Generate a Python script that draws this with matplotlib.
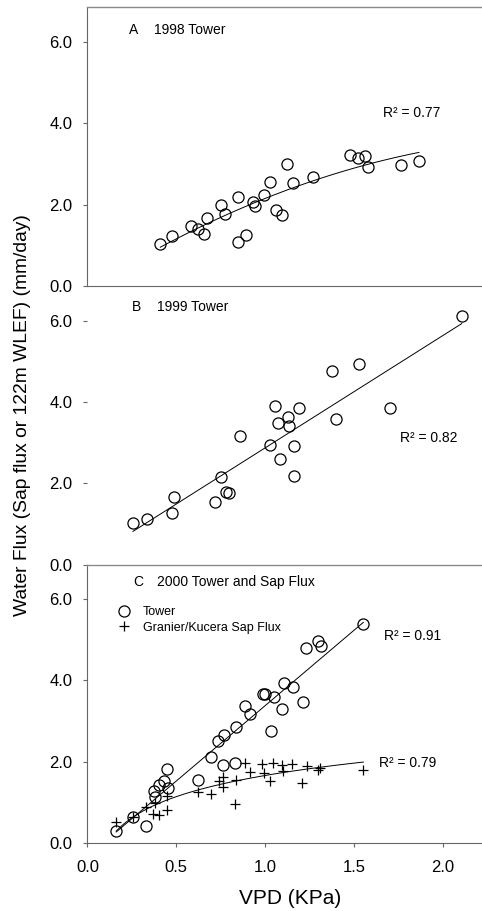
"""Water flux vs VPD, three stacked panels (1998, 1999, 2000)."""

import numpy as np
import matplotlib
matplotlib.use('Agg')
import matplotlib.pyplot as plt
from matplotlib.lines import Line2D

plt.rcParams['font.family'] = ['Liberation Sans', 'DejaVu Sans']

# panel A - 1998 tower
a_vpd = [0.41, 0.474, 0.583, 0.62, 0.656, 0.671, 0.75, 0.774, 0.849, 0.849, 0.89, 0.934, 0.943,
         0.996, 1.03, 1.061, 1.097, 1.125, 1.159, 1.272, 1.48, 1.523, 1.564, 1.578, 1.767, 1.866]
a_flux = [1.04, 1.24, 1.47, 1.41, 1.27, 1.68, 2.0, 1.78, 2.19, 1.07, 1.25, 2.07, 1.96,
          2.24, 2.56, 1.86, 1.75, 3.01, 2.53, 2.68, 3.21, 3.16, 3.2, 2.93, 2.97, 3.08]

# panel B - 1999 tower
b_vpd = [0.256, 0.333, 0.476, 0.487, 0.718, 0.75, 0.78, 0.799, 0.861, 1.026, 1.057, 1.071,
         1.084, 1.127, 1.134, 1.164, 1.161, 1.19, 1.375, 1.399, 1.53, 1.703, 2.107]
b_flux = [1.03, 1.13, 1.27, 1.65, 1.54, 2.16, 1.79, 1.75, 3.17, 2.94, 3.89, 3.47,
          2.6, 3.62, 3.41, 2.91, 2.18, 3.84, 4.76, 3.59, 4.94, 3.84, 6.12]

# panel C - 2000 tower and sap flux
c_tower_vpd = [0.162, 0.254, 0.327, 0.375, 0.38, 0.404, 0.429, 0.45, 0.451, 0.624, 0.697,
               0.737, 0.768, 0.765, 0.832, 0.838, 0.887, 0.915, 0.986, 0.999, 1.031, 1.05,
               1.093, 1.106, 1.157, 1.211, 1.228, 1.296, 1.317, 1.553]
c_tower_flux = [0.30, 0.65, 0.43, 1.29, 1.12, 1.42, 1.52, 1.82, 1.35, 1.56, 2.11,
                2.52, 2.65, 1.93, 1.98, 2.86, 3.36, 3.18, 3.67, 3.66, 2.76, 3.6,
                3.3, 3.93, 3.84, 3.48, 4.8, 4.96, 4.85, 5.39]
c_sap_vpd = [0.162, 0.254, 0.327, 0.37, 0.40, 0.38, 0.446, 0.45, 0.62, 0.695, 0.74, 0.765,
             0.765, 0.834, 0.83, 0.889, 0.915, 0.984, 0.994, 1.046, 1.028, 1.093, 1.103,
             1.15, 1.21, 1.234, 1.3, 1.31, 1.553]
c_sap_flux = [0.52, 0.64, 0.89, 0.71, 0.69, 0.98, 0.81, 1.16, 1.26, 1.2, 1.53, 1.63,
              1.37, 1.55, 0.96, 1.96, 1.75, 1.94, 1.71, 1.96, 1.53, 1.92, 1.77,
              1.94, 1.47, 1.89, 1.79, 1.85, 1.79]

fig = plt.figure(figsize=(4.82, 9.11), dpi=100)

left, width, h = 0.1815, 0.8185, 0.30571
axA = fig.add_axes([left, 0.68606, width, h])
axB = fig.add_axes([left, 0.38035, width, h])
axC = fig.add_axes([left, 0.07464, width, h])

spine_col = '#666666'
for ax in (axA, axB, axC):
    ax.set_xlim(0, 2.221)
    ax.set_ylim(0, 6.85)
    ax.set_yticks([0, 2, 4, 6])
    ax.set_yticklabels(['0.0', '2.0', '4.0', '6.0'])
    ax.tick_params(axis='y', direction='out', length=3, width=0.8, color=spine_col,
                   pad=8, labelsize=12)
    ax.spines['right'].set_visible(False)
    for s in ('left', 'bottom'):
        ax.spines[s].set_color(spine_col)
        ax.spines[s].set_linewidth(0.8)
    ax.spines['top'].set_color('#8a8a8a')
    ax.spines['top'].set_linewidth(1.0)
    ax.patch.set_visible(False)

for ax in (axA, axB):
    ax.set_xticks([])

for s in ('left', 'top', 'bottom'):
    axB.spines[s].set_visible(False)

axC.set_xticks([0, 0.5, 1.0, 1.5, 2.0])
axC.set_xticklabels(['0.0', '0.5', '1.0', '1.5', '2.0'])
axC.tick_params(axis='x', direction='out', length=3, width=0.8, color=spine_col,
                pad=9, labelsize=12)

circ = dict(marker='o', ms=8, mfc='none', mec='black', mew=0.9, ls='none')
plus = dict(marker='+', ms=7, color='black', mew=0.9, ls='none')


def fit_line(ax, x, y, deg, logx=False):
    x = np.asarray(x)
    xf = np.log(x) if logx else x
    coef = np.polyfit(xf, y, deg)
    xs = np.linspace(x.min(), x.max(), 100)
    ys = np.polyval(coef, np.log(xs) if logx else xs)
    ax.plot(xs, ys, color='black', lw=0.7)


# A
axA.plot(a_vpd, a_flux, **circ)
fit_line(axA, a_vpd, a_flux, 2)
axA.text(0.105, 0.919, 'A', transform=axA.transAxes, fontsize=10, va='center')
axA.text(0.169, 0.919, '1998 Tower', transform=axA.transAxes, fontsize=10, va='center')
axA.text(1.664, 4.25, 'R² = 0.77', fontsize=10, va='center')

# B
axB.plot(b_vpd, b_flux, **circ)
fit_line(axB, b_vpd, b_flux, 1)
axB.text(0.113, 0.926, 'B', transform=axB.transAxes, fontsize=10, va='center')
axB.text(0.176, 0.926, '1999 Tower', transform=axB.transAxes, fontsize=10, va='center')
axB.text(1.76, 3.11, 'R² = 0.82', fontsize=10, va='center')

# C
axC.plot(c_tower_vpd, c_tower_flux, **circ)
axC.plot(c_sap_vpd, c_sap_flux, **plus)
fit_line(axC, c_tower_vpd, c_tower_flux, 1)
fit_line(axC, c_sap_vpd, c_sap_flux, 1, logx=True)
axC.text(0.115, 0.936, 'C', transform=axC.transAxes, fontsize=10, va='center')
axC.text(0.176, 0.936, '2000 Tower and Sap Flux', transform=axC.transAxes, fontsize=10,
         va='center')
axC.text(1.67, 5.09, 'R² = 0.91', fontsize=10, va='center')
axC.text(1.64, 1.98, 'R² = 0.79', fontsize=10, va='center')

handles = [Line2D([], [], **circ), Line2D([], [], **plus)]
axC.legend(handles, ['Tower', 'Granier/Kucera Sap Flux'], loc='upper left',
           bbox_to_anchor=(0.077, 0.851), frameon=False, fontsize=9, borderpad=0,
           borderaxespad=0, handlelength=1.0, handletextpad=1.0, labelspacing=0.3)

fig.text(0.046, 0.5445, 'Water Flux (Sap flux or 122m WLEF) (mm/day)', rotation=90,
         ha='center', va='center', fontsize=13.9)
fig.text(0.602, 1 - 898 / 911, 'VPD (KPa)', ha='center', va='center', fontsize=15)

fig.savefig('out.png', dpi=100)
